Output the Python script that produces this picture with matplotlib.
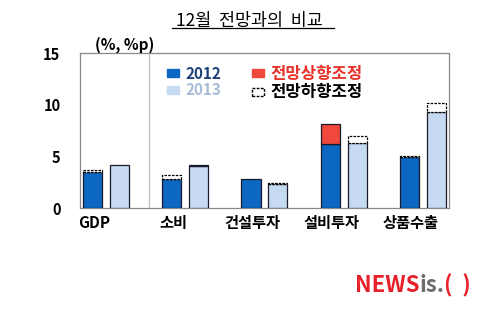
import numpy as np
import matplotlib
matplotlib.use("Agg")
import matplotlib.pyplot as plt
from matplotlib.patches import Patch

plt.rcParams['font.family'] = ['Noto Sans CJK KR', 'DejaVu Sans']

# forecast values (%), base bar plus revision parts
categories = ['GDP', '소비', '건설투자', '설비투자', '상품수출']
base2012 = [3.5, 2.8, 2.8, 6.2, 4.9]
up2012 = [0.0, 0.0, 0.0, 1.9, 0.0]
down2012 = [0.2, 0.4, 0.0, 0.0, 0.1]
base2013 = [4.2, 4.1, 2.3, 6.3, 9.3]
up2013 = [0.0, 0.1, 0.0, 0.0, 0.0]
down2013 = [0.0, 0.0, 0.1, 0.7, 0.9]
yticks = [0, 5, 10, 15]

c2012 = '#0b67c2'
c2013 = '#c6dbf1'
cup = '#f0483c'
edge = '#1a1a2a'

fig = plt.figure(figsize=(4.99, 3.22), dpi=100, facecolor='w')
ax = fig.add_axes([0.160, 0.354, 0.740, 0.481])

x = np.arange(len(categories))
w = 0.24
off = 0.17

for xs, base, up, down, col in [(x - off, base2012, up2012, down2012, c2012),
                                (x + off, base2013, up2013, down2013, c2013)]:
    base = np.array(base)
    up = np.array(up)
    down = np.array(down)
    ax.bar(xs, base, w, color=col, edgecolor=edge, linewidth=0.9, zorder=3)
    m = up > 0
    ax.bar(xs[m], up[m], w, bottom=base[m], color=cup, edgecolor=edge,
           linewidth=0.9, zorder=3)
    m = down > 0
    ax.bar(xs[m], down[m], w, bottom=base[m], color='white', edgecolor='black',
           linewidth=0.9, linestyle=(0, (2, 1)), zorder=3)

ax.set_xlim(-0.33, len(categories) - 1 + 0.33)
ax.set_ylim(0, 15)
ax.set_yticks(yticks)
ax.set_yticklabels([str(v) for v in yticks], fontsize=10.5, fontweight='bold')
ax.set_xticks(x - 0.15)
ax.set_xticklabels(categories, fontsize=11, fontweight='bold')
ax.tick_params(axis='y', length=0, pad=14)
ax.tick_params(axis='x', length=0, pad=5)
for s in ax.spines.values():
    s.set_color('#8a8a8a')
    s.set_linewidth(0.9)

# divider between GDP and its components
ax.axvline(0.54, color='#c0c0c0', linewidth=0.9, zorder=1)

ax.text(0.04, 1.0, '(%, %p)', transform=ax.transAxes, fontsize=11,
        fontweight='bold', ha='left', va='bottom')

handles = [Patch(facecolor=c2012, edgecolor=c2012),
           Patch(facecolor=c2013, edgecolor=c2013),
           Patch(facecolor=cup, edgecolor=cup),
           Patch(facecolor='white', edgecolor='black', linestyle=(0, (2, 1)))]
labels = ['2012', '2013', '전망상향조정', '전망하향조정']
leg = ax.legend(handles, labels, ncol=2, frameon=False, fontsize=11,
                loc='upper left', bbox_to_anchor=(0.2, 1.015),
                handlelength=0.75, handleheight=0.45, handletextpad=0.45,
                columnspacing=2.0, labelspacing=0.05)
for t, c, fs in zip(leg.get_texts(), ['#1d3f7a', '#a8bcd8', '#e8332a', 'black'],
                    [11, 11, 12, 12]):
    t.set_color(c)
    t.set_fontweight('bold')
    t.set_fontsize(fs)

# title with underline
fig.text(0.5, 0.935, '12월  전망과의  비교', ha='center', va='center',
         fontsize=12.5)
fig.add_artist(plt.Line2D([0.345, 0.67], [0.913, 0.913], color='black',
                          linewidth=0.9))

# agency mark
t1 = fig.text(0.711, 0.112, 'NEWS', color='#e8202a', fontsize=16,
              fontweight='bold', va='center')
t2 = fig.add_artist(plt.Annotation('is.', xy=(1, 0), xycoords=t1,
                                   va='bottom', color='#6e6e6e', fontsize=16,
                                   fontweight='bold'))
fig.add_artist(plt.Annotation('(  )', xy=(1, 0), xycoords=t2, va='bottom',
                              color='#e8202a', fontsize=16, fontweight='bold'))

fig.savefig('out.png', dpi=100)
